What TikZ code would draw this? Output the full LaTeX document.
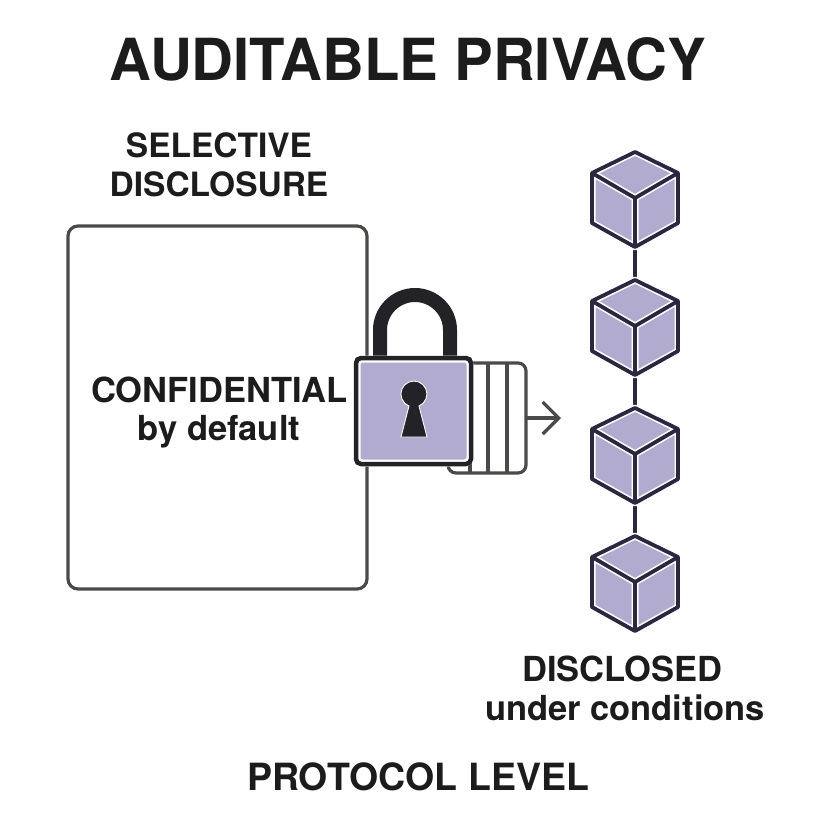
\documentclass[tikz,border=0pt]{standalone}
\usepackage{fontspec}
\setmainfont{TeX Gyre Heros}
\usetikzlibrary{arrows.meta}
\definecolor{ink}{HTML}{1C1C1C}
\definecolor{gline}{HTML}{4A4A48}
\definecolor{lav}{HTML}{B1ABCF}
\definecolor{navy}{HTML}{2A2740}
\definecolor{lockdark}{HTML}{232327}
\tikzset{
  lbl/.style={font=\bfseries\fontsize{#1}{#1}\selectfont, text=ink, inner sep=0pt, anchor=base},
  frame/.style={draw=gline, line width=3.2pt},
  halo/.style={draw=white, line width=7pt, line join=round},
  edge/.style={draw=navy, line width=3.8pt, line join=round},
  chain/.style={draw=navy, line width=3.2pt},
}
\newcommand{\mycube}[2]{%
  \begin{scope}[shift={(#1,#2)}]
    \fill[lav] (0,-47) -- (43,-26) -- (43,24) -- (0,48) -- (-43,24) -- (-43,-26) -- cycle;
    \path[halo] (0,-47) -- (43,-26) -- (43,24) -- (0,48) -- (-43,24) -- (-43,-26) -- cycle
      (-43,-26) -- (0,-1) -- (43,-26) (0,-1) -- (0,48);
    \path[edge] (0,-47) -- (43,-26) -- (43,24) -- (0,48) -- (-43,24) -- (-43,-26) -- cycle
      (-43,-26) -- (0,-1) -- (43,-26) (0,-1) -- (0,48);
  \end{scope}}
\begin{document}
\begin{tikzpicture}[x=1pt,y=-1pt]
\useasboundingbox[fill=white] (0,0) rectangle (828,828);

% title and labels
\node[lbl=58] (title) at (408,80) {AUDITABLE PRIVACY};
\node[lbl=33.5] (sel1) at (219,157) {SELECTIVE};
\node[lbl=33.5] (sel2) at (219,196) {DISCLOSURE};
\node[lbl=34.5] (conf1) at (219.5,402) {CONFIDENTIAL};
\node[lbl=34.5] (conf2) at (219,440) {by default};
\node[lbl=34.5] (disc1) at (622.5,681) {DISCLOSED};
\node[lbl=34.5] (disc2) at (625,720) {under conditions};
\node[lbl=37.5] (proto) at (418,790) {PROTOCOL LEVEL};

% confidential box
\draw[frame, rounded corners=10pt] (68,226) rectangle (367,589);

% ledger / slider box behind the lock
\draw[frame, rounded corners=8pt] (448,473) -- (448,363) -- (526,363) -- (526,473) -- cycle;
\draw[frame] (470,363) -- (470,473) (488,363) -- (488,473) (507,363) -- (507,473);
\coordinate (arrs) at (526,418);
\coordinate (arre) at (561,418);
\draw[frame, -{Straight Barb[length=16pt,width=32pt,line width=3.2pt]}] (arrs) -- (arre);

% lock shackle
\draw[lockdark, line width=14pt] (380,360) -- (380,330)
  .. controls (380,310.7) and (395.7,295) .. (415,295)
  .. controls (434.3,295) and (450,310.7) .. (450,330) -- (450,360);
% lock body
\fill[lav, rounded corners=5pt] (355,357) rectangle (472,465);
\draw[white, line width=7pt, rounded corners=5pt] (357,359) rectangle (470,463);
\draw[lockdark, line width=4.5pt, rounded corners=5pt] (356,358) rectangle (471,464);
% keyhole
\filldraw[fill=lockdark, draw=white, line width=0.9pt]
  (409,406) -- (401,437) -- (427,437) -- (419,406)
  arc[start angle=-67, end angle=247, radius=13pt] -- cycle;

% blockchain
\coordinate (b1) at (635,247); \coordinate (t2) at (635,280);
\coordinate (b2) at (635,375); \coordinate (t3) at (635,408);
\coordinate (b3) at (635,503); \coordinate (t4) at (635,536);
\draw[chain] (b1) -- (t2) (b2) -- (t3) (b3) -- (t4);
\mycube{635}{199}
\mycube{635}{327}
\mycube{635}{455}
\mycube{635}{583}
\end{tikzpicture}
\end{document}
